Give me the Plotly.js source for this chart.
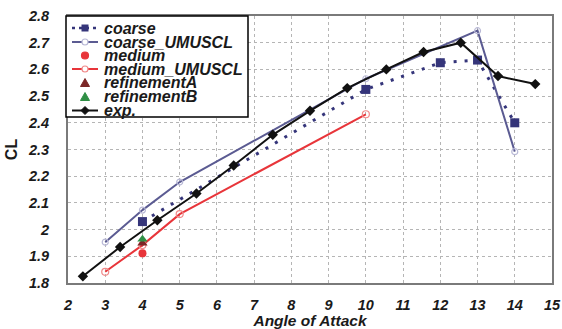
<!DOCTYPE html>
<html><head><meta charset="utf-8">
<script src="https://cdn.plot.ly/plotly-3.0.1.min.js"></script>
<style>html,body{margin:0;padding:0;background:#fff}#chart{width:562px;height:329px}</style>
</head><body><div id="chart"></div>
<script>
// ---- data ----
const expX = [2.4, 3.4, 4.4, 5.45, 6.45, 7.5, 8.5, 9.5, 10.55, 11.55, 12.55, 13.55, 14.55];
const expY = [1.825, 1.935, 2.035, 2.135, 2.24, 2.355, 2.445, 2.53, 2.60, 2.665, 2.70, 2.575, 2.545];
const coarseX = [4, 10, 12, 13, 14];
const coarseY = [2.03, 2.525, 2.625, 2.635, 2.40];
const coarseUX = [3, 4, 5, 10, 13, 14];
const coarseUY = [1.953, 2.073, 2.178, 2.565, 2.745, 2.292];
const mediumX = [4];
const mediumY = [1.911];
const mediumUX = [3, 4, 5, 10];
const mediumUY = [1.842, 1.942, 2.058, 2.432];
const refAX = [4];
const refAY = [1.949];
const refBX = [4];
const refBY = [1.964];
const legendNames = ['coarse', 'coarse_UMUSCL', 'medium', 'medium_UMUSCL', 'refinementA', 'refinementB', 'exp.'];
const xTicks = [2,3,4,5,6,7,8,9,10,11,12,13,14,15];

const C_NAVY = '#35357a', C_SLATE = '#5b5b92', C_RED = '#e8353a', C_DRED = '#7a2626', C_GREEN = '#2f8f45', C_BLK = '#111111';

const traces = [
  {name: legendNames[0], x: coarseX, y: coarseY, mode: 'lines+markers',
   line: {color: C_NAVY, width: 3, dash: '3px,8px'},
   marker: {symbol: 'square', size: 9, color: C_NAVY}},
  {name: legendNames[1], x: coarseUX, y: coarseUY, mode: 'lines+markers',
   line: {color: C_SLATE, width: 2},
   marker: {symbol: 'circle-open', size: 6, color: '#b9b9d6', line: {width: 1.2}}},
  {name: legendNames[2], x: mediumX, y: mediumY, mode: 'markers',
   marker: {symbol: 'circle', size: 8, color: C_RED}},
  {name: legendNames[3], x: mediumUX, y: mediumUY, mode: 'lines+markers',
   line: {color: C_RED, width: 2},
   marker: {symbol: 'circle-open', size: 7, color: '#f08a8a', line: {width: 1.2}}},
  {name: legendNames[4], x: refAX, y: refAY, mode: 'markers',
   marker: {symbol: 'triangle-up', size: 9, color: C_DRED}},
  {name: legendNames[5], x: refBX, y: refBY, mode: 'markers',
   marker: {symbol: 'triangle-up', size: 9, color: C_GREEN}},
  {name: legendNames[6], x: expX, y: expY, mode: 'lines+markers',
   line: {color: C_BLK, width: 2},
   marker: {symbol: 'diamond', size: 8, color: C_BLK}}
];

// ---- custom compact legend (pixel helpers) ----
const L = 68, R = 10, T = 16, B = 46, W = 562, H = 329;
const pw = W - L - R, ph = H - T - B;
const px = v => (v - L) / pw;
const py = v => (H - B - v) / ph;
const rows = [28, 42, 55.5, 69, 83, 97, 110.5];
const shapes = [];
const ann = [];
shapes.push({type: 'rect', xref: 'paper', yref: 'paper', x0: px(66), x1: px(248), y0: py(117), y1: py(16),
  line: {color: '#000', width: 1.5}, fillcolor: '#fff'});
function hline(r, color, dash, width) {
  shapes.push({type: 'line', xref: 'paper', yref: 'paper', x0: px(72), x1: px(98), y0: py(r), y1: py(r),
    line: {color: color, width: width, dash: dash}});
}
function circ(r, rad, fill, lc) {
  shapes.push({type: 'circle', xref: 'paper', yref: 'paper', x0: px(85 - rad), x1: px(85 + rad), y0: py(r + rad), y1: py(r - rad),
    fillcolor: fill, line: {color: lc, width: 1.2}});
}
function pathPts(pts, color) {
  const d = 'M' + pts.map(p => px(p[0]) + ',' + py(p[1])).join('L') + 'Z';
  shapes.push({type: 'path', xref: 'paper', yref: 'paper', path: d, fillcolor: color, line: {color: color, width: 1}});
}
// coarse
hline(rows[0], C_NAVY, '3px,4px', 2.5);
shapes.push({type: 'rect', xref: 'paper', yref: 'paper', x0: px(81.5), x1: px(88.5), y0: py(rows[0] + 3.5), y1: py(rows[0] - 3.5),
  fillcolor: C_NAVY, line: {color: C_NAVY, width: 0}});
// coarse_UMUSCL
hline(rows[1], C_SLATE, 'solid', 2);
circ(rows[1], 3, '#fff', '#b9b9d6');
// medium
circ(rows[2], 3.5, C_RED, C_RED);
// medium_UMUSCL
hline(rows[3], C_RED, 'solid', 2);
circ(rows[3], 3, '#fff', '#f08a8a');
// refinementA / B
pathPts([[85, rows[4] - 4.5], [89.5, rows[4] + 3.5], [80.5, rows[4] + 3.5]], C_DRED);
pathPts([[85, rows[5] - 4.5], [89.5, rows[5] + 3.5], [80.5, rows[5] + 3.5]], C_GREEN);
// exp.
hline(rows[6], C_BLK, 'solid', 2);
pathPts([[85, rows[6] - 4], [89, rows[6]], [85, rows[6] + 4], [81, rows[6]]], C_BLK);

legendNames.forEach((n, i) => {
  ann.push({text: n, xref: 'paper', yref: 'paper', x: px(102), y: py(rows[i]), xanchor: 'left', yanchor: 'middle',
    showarrow: false, font: {family: 'Liberation Sans, Arial, sans-serif', size: 16, weight: 'bold', style: 'italic', color: '#1a1a1a'}});
});

const FAM = 'Liberation Sans, Arial, sans-serif';
const tickFont = {family: FAM, size: 14.5, weight: 'bold', style: 'italic', color: '#1a1a1a'};
const layout = {
  width: W, height: H,
  margin: {l: L, r: R, t: T, b: B},
  paper_bgcolor: '#fff', plot_bgcolor: '#fff',
  showlegend: false,
  xaxis: {range: [2, 15], tickmode: 'array', tickvals: xTicks, ticktext: xTicks.map(String),
    showgrid: true, gridcolor: '#b5b5b5', griddash: 'dot', gridwidth: 1,
    showline: true, linecolor: '#7a7a7a', linewidth: 2, mirror: true, zeroline: false,
    ticks: '', tickfont: tickFont, ticklabelstandoff: 8,
    title: {text: 'Angle of Attack', standoff: 0, font: {family: FAM, size: 15.5, weight: 'bold', style: 'italic', color: '#1a1a1a'}}},
  yaxis: {range: [1.8, 2.8], dtick: 0.1, tick0: 1.8,
    showgrid: true, gridcolor: '#b5b5b5', griddash: 'dot', gridwidth: 1,
    showline: true, linecolor: '#7a7a7a', linewidth: 2, mirror: true, zeroline: false,
    ticks: '', tickfont: tickFont, ticklabelstandoff: 14,
    title: {text: 'CL', standoff: 6, font: {family: FAM, size: 16, weight: 'bold', color: '#1a1a1a'}}},
  shapes: shapes,
  annotations: ann
};
Plotly.newPlot('chart', traces, layout, {displayModeBar: false, staticPlot: true});
</script></body></html>
